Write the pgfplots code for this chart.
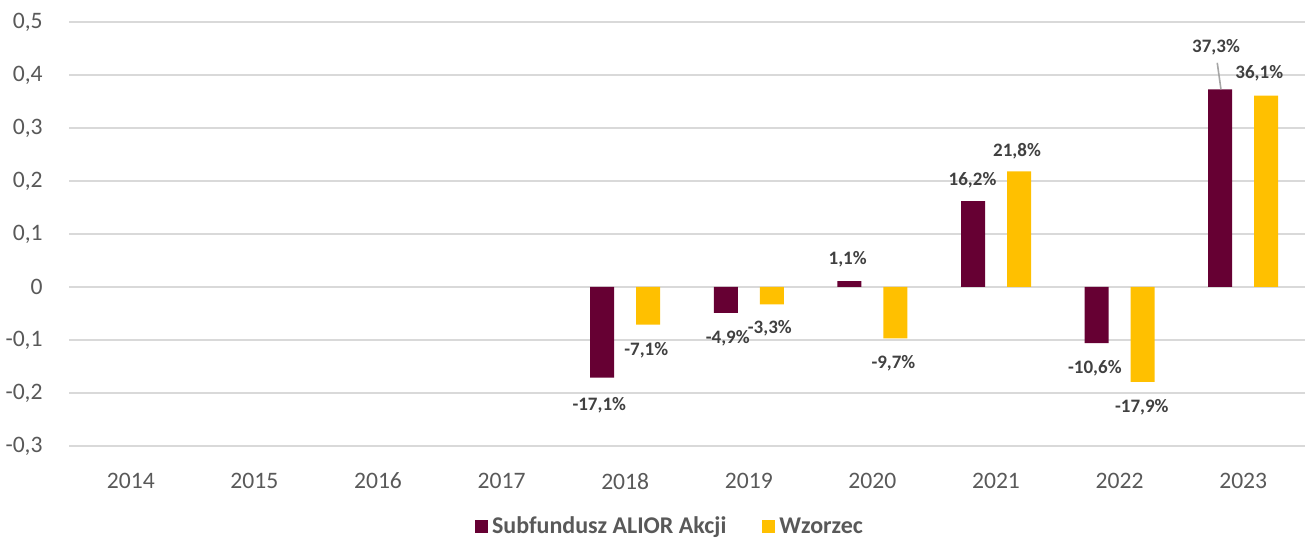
\documentclass[border=0pt]{standalone}
\usepackage{pgfplots}
\pgfplotsset{compat=1.18}
\usepackage{fontspec}
\setmainfont{Carlito}
\definecolor{fund}{HTML}{660033}
\definecolor{bench}{HTML}{FFC000}
\definecolor{lbl}{HTML}{404040}
\definecolor{tck}{HTML}{595959}
\definecolor{grd}{HTML}{D9D9D9}
\begin{document}
\begin{tikzpicture}
\path[use as bounding box] (0,0) rectangle (652.5pt,269.5pt);
\begin{axis}[
  at={(34.5pt,46.5pt)}, anchor=south west,
  scale only axis, width=618pt, height=212pt,
  ybar=11pt, bar width=12pt,
  xmin=-0.5, xmax=9.5, ymin=-0.3, ymax=0.5,
  xtick={0,...,9}, xticklabels={2014,2015,2016,2017,2018,2019,2020,2021,2022,2023},
  ytick={-0.3,-0.2,-0.1,0,0.1,0.2,0.3,0.4,0.5},
  ymajorgrids, grid style={grd, line width=1pt},
  axis line style={draw=none}, tick style={draw=none},
  /pgf/number format/.cd, assume math mode=true, use comma, fixed, precision=1, /pgfplots/.cd,
  ticklabel style={font=\fontsize{11.8}{13}\selectfont, text=tck},
  yticklabel style={anchor=east, inner sep=0pt, xshift=-13pt},
  xticklabel style={anchor=north, inner sep=0pt, yshift=-9pt},
  legend style={at={(0.5,0)}, anchor=center, yshift=-40.5pt, xshift=-8pt, draw=none, fill=none,
    legend columns=2, font=\bfseries\fontsize{12}{14}\selectfont, text=tck,
    /tikz/every even column/.append style={column sep=16pt}},
  legend image code/.code={\fill[#1] (0pt,-3.25pt) rectangle (6.5pt,3.25pt);},
  clip=false,
]
\addplot[fill=fund, draw=none] coordinates {(4,-0.171) (5,-0.049) (6,0.011) (7,0.162) (8,-0.106) (9,0.373)};
\addplot[fill=bench, draw=none] coordinates {(4,-0.071) (5,-0.033) (6,-0.097) (7,0.218) (8,-0.179) (9,0.361)};
\legend{Subfundusz ALIOR Akcji, Wzorzec}
\draw[gray!70, line width=0.8pt] (axis cs:8.79,0.423) -- (axis cs:8.82,0.373);
\begin{scope}[every node/.style={font=\bfseries\fontsize{9.5}{11}\selectfont, text=lbl, anchor=center}]
\node at (axis cs:3.79,-0.223) {-17,1\%};
\node at (axis cs:4.17,-0.119) {-7,1\%};
\node at (axis cs:4.83,-0.096) {-4,9\%};
\node at (axis cs:5.17,-0.077) {-3,3\%};
\node at (axis cs:5.80,0.053) {1,1\%};
\node at (axis cs:6.17,-0.143) {-9,7\%};
\node at (axis cs:6.81,0.202) {16,2\%};
\node at (axis cs:7.17,0.257) {21,8\%};
\node at (axis cs:7.80,-0.153) {-10,6\%};
\node at (axis cs:8.18,-0.226) {-17,9\%};
\node at (axis cs:8.78,0.453) {37,3\%};
\node at (axis cs:9.13,0.404) {36,1\%};
\end{scope}
\end{axis}
\end{tikzpicture}
\end{document}
